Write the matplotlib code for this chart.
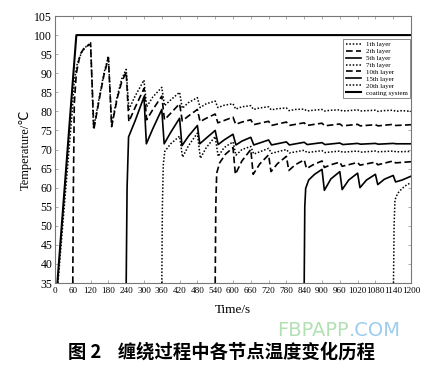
import matplotlib
matplotlib.use("Agg")
import matplotlib.pyplot as plt

# ---- data ----
t_coat = [8, 72, 1200]
T_coat = [35, 100, 100]

t_l1 = [10, 58, 65, 75, 90, 105, 120, 130, 150, 165, 180, 191, 210, 225, 240, 249, 270, 300, 309, 330, 360,
        369, 390, 420, 429, 450, 480, 489, 510, 540, 549, 570, 600, 609, 630, 660, 669, 690, 720, 729, 750,
        780, 789, 810, 840, 849, 870, 900, 909, 930, 960, 969, 990, 1020, 1029, 1050, 1080, 1089, 1110, 1140,
        1149, 1170, 1200]
T_l1 = [35, 80, 88, 92.5, 95.5, 97, 98, 75.5, 84, 90, 94.5, 76.5, 84, 88.5, 91, 80.5, 84, 88.2, 81.2, 83.8, 86.3,
        81.5, 83, 85, 80.8, 82.3, 83.6, 81, 82, 82.7, 81, 81.6, 82, 80.6, 81.2, 81.5, 80.5, 80.9, 81.2, 80.4, 80.7,
        80.9, 80.2, 80.5, 80.6, 80.1, 80.3, 80.5, 80.1, 80.3, 80.4, 80.1, 80.2, 80.4, 80.1, 80.2, 80.3, 80.0, 80.2, 80.3,
        80.0, 80.2, 80.0]

t_l2 = [60, 62, 65, 72, 85, 100, 120, 131, 150, 165, 180, 191, 210, 225, 240, 249, 270, 300, 309, 330, 360,
        369, 390, 420, 429, 450, 480, 489, 510, 540, 549, 570, 600, 609, 630, 660, 669, 720, 729, 780, 789,
        840, 849, 900, 909, 960, 969, 1020, 1029, 1080, 1089, 1140, 1149, 1200]
T_l2 = [35, 60, 82, 90, 95, 96.8, 97.6, 75.3, 83.5, 89.5, 94, 76, 83.5, 87.8, 90.3, 77.3, 81, 86, 77.8, 80.5, 84,
        77.8, 79.5, 82, 77.5, 78.8, 80.5, 77.3, 78.2, 79.3, 77, 77.6, 78.5, 76.6, 77.2, 77.8, 76.5, 77.4, 76.3, 77.2, 76.3,
        77, 76.3, 76.9, 76.2, 76.7, 76.2, 76.6, 76.2, 76.5, 76.2, 76.6, 76.3, 76.5]

t_l5 = [240, 243, 248, 270, 300, 308, 330, 360, 368, 390, 420, 428, 450, 480, 488, 510, 540, 550, 570, 600, 610,
        630, 660, 670, 720, 730, 780, 790, 840, 850, 900, 910, 960, 970, 1020, 1030, 1080, 1090, 1140, 1150, 1200]
T_l5 = [35, 60, 73.3, 77.5, 83.8, 71.5, 75.5, 80.5, 71.5, 74.5, 78.2, 71, 73.5, 76.3, 71.5, 73, 75, 71.3, 72.5, 74, 71.2,
        72.2, 73.2, 71.2, 72.5, 71.2, 72, 71.2, 71.9, 71.3, 71.8, 71.3, 71.7, 71.3, 71.6, 71.4, 71.6, 71.4, 71.6, 71.5, 71.5]

t_l7 = [360, 362, 365, 370, 390, 420, 430, 450, 480, 490, 510, 540, 550, 570, 600, 610, 630, 660, 670, 720, 730,
        780, 790, 840, 850, 900, 910, 960, 970, 1020, 1030, 1080, 1090, 1140, 1150, 1200]
T_l7 = [35, 55, 66, 69.5, 71.5, 73.5, 68, 71, 74.3, 67.7, 70.5, 73.4, 68.2, 70.5, 72, 68.5, 70, 70.8, 68.8, 70.3, 69,
        70, 69.1, 69.8, 69.2, 69.7, 69.2, 69.6, 69.3, 69.6, 69.3, 69.6, 69.4, 69.6, 69.4, 69.5]

t_l10 = [540, 542, 545, 555, 575, 600, 608, 630, 660, 668, 690, 720, 728, 750, 780, 788, 810, 840, 848, 870, 900,
         908, 930, 960, 968, 1020, 1028, 1080, 1088, 1140, 1148, 1200]
T_l10 = [35, 55, 63.8, 66.5, 68.8, 70.5, 63.5, 67, 70, 63.5, 66.2, 68.6, 64.2, 66.3, 68.2, 64.5, 66, 67.3, 65, 66, 67,
         65.3, 66, 66.7, 65.6, 66.6, 65.9, 66.7, 66, 67, 66.5, 66.8]

t_l15 = [840, 842, 845, 855, 875, 900, 908, 930, 960, 968, 990, 1020, 1028, 1050, 1080, 1088, 1110, 1140, 1148, 1170, 1200]
T_l15 = [35, 55, 59.8, 62, 63.5, 64.8, 59.3, 62.3, 64.2, 59.5, 62, 63.8, 60, 62, 63.5, 60.8, 62.2, 63.2, 61.5, 62, 63]

t_l20 = [1141, 1143, 1146, 1155, 1170, 1185, 1200]
T_l20 = [35, 50, 56.8, 58.5, 59.8, 60.7, 61.3]

x_ticks = list(range(0, 1201, 60))
y_ticks = list(range(35, 106, 5))

# ---- plotting ----
plt.rcParams['font.family'] = ['Liberation Serif', 'DejaVu Serif']
fig = plt.figure(figsize=(4.34, 3.69), dpi=100)
ax = fig.add_axes([0.1267, 0.233, 0.8203, 0.7236])

dot = (0, (1, 1.2))
dash = (0, (4, 2))
ax.plot(t_l1, T_l1, color='black', lw=1.1, linestyle=dot, label='1th layer')
ax.plot(t_l2, T_l2, color='black', lw=1.2, linestyle=dash, label='2th layer')
ax.plot(t_l5, T_l5, color='black', lw=1.2, linestyle='-', label='5th layer')
ax.plot(t_l7, T_l7, color='black', lw=1.1, linestyle=dot, label='7th layer')
ax.plot(t_l10, T_l10, color='black', lw=1.2, linestyle=dash, label='10th layer')
ax.plot(t_l15, T_l15, color='black', lw=1.2, linestyle='-', label='15th layer')
ax.plot(t_l20, T_l20, color='black', lw=1.1, linestyle=dot, label='20th layer')
ax.plot(t_coat, T_coat, color='black', lw=1.5, linestyle='-', label='coating system')

ax.set_xlim(0, 1200)
ax.set_ylim(35, 105)
ax.set_xticks(x_ticks)
ax.set_yticks(y_ticks)
ax.tick_params(axis='x', labelsize=6.6, direction='in', length=2, width=0.5, color='#888888', pad=3, top=True)
ax.tick_params(axis='y', labelsize=8.5, direction='in', length=2, width=0.5, color='#888888', pad=2, right=True)
for s in ax.spines.values():
    s.set_color('#777777')
    s.set_linewidth(0.8)

ax.set_xlabel('Time/s', fontsize=9.5, labelpad=6)
ax.set_ylabel('Temperature/\u2103', fontsize=9, labelpad=2, family=['Liberation Serif', 'DejaVu Sans'])

leg = ax.legend(loc='upper right', bbox_to_anchor=(1.0, 0.918), borderaxespad=0.2, fontsize=5,
                labelspacing=0.15, handlelength=2.3, handletextpad=0.6, borderpad=0.3,
                fancybox=False, framealpha=1, edgecolor='#777777')
leg.get_frame().set_linewidth(0.6)

fig.text(0.157, 0.045, '图 2    缠绕过程中各节点温度变化历程', fontsize=13.2, fontweight='bold',
         family=['Noto Sans CJK SC', 'DejaVu Sans'], va='center', ha='left')

wm1 = fig.text(0.638, 0.103, 'FBPAPP', fontsize=14, color='#a6dba6', alpha=0.85,
               family=['DejaVu Sans'], va='center', ha='left')
fig.canvas.draw()
bb = wm1.get_window_extent(renderer=fig.canvas.get_renderer())
x_end = bb.x1 / fig.bbox.width
fig.text(x_end, 0.103, '.COM', fontsize=14, color='#8cc4ea', alpha=0.85,
         family=['DejaVu Sans'], va='center', ha='left')

fig.savefig('out.png', dpi=100)
